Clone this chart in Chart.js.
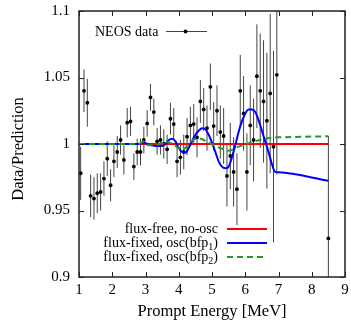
<!DOCTYPE html>
<html>
<head>
<meta charset="utf-8">
<script src="https://cdn.jsdelivr.net/npm/chart.js@4"></script>
<style>
  html, body { margin: 0; padding: 0; background: #fff; }
  #wrap { width: 351px; height: 321px; }
</style>
</head>
<body>
<div id="wrap"><canvas id="myChart" width="351" height="321"></canvas></div>
<script>
// NEOS data points (bin centres in MeV), ratio and error
const energy = [1.05, 1.15, 1.25, 1.35, 1.45, 1.55, 1.65, 1.75, 1.85, 1.95,
                2.05, 2.15, 2.25, 2.35, 2.45, 2.55, 2.65, 2.75, 2.85, 2.95,
                3.05, 3.15, 3.25, 3.35, 3.45, 3.55, 3.65, 3.75, 3.85, 3.95,
                4.05, 4.15, 4.25, 4.35, 4.45, 4.55, 4.65, 4.75, 4.85, 4.95,
                5.05, 5.15, 5.25, 5.35, 5.45, 5.55, 5.65, 5.75, 5.85, 5.95,
                6.05, 6.15, 6.25, 6.35, 6.45, 6.55, 6.65, 6.75, 6.85, 6.95, 8.5];
const ratio = [0.978, 1.040, 1.031, 0.961, 0.959, 0.963, 0.964, 0.974, 0.989, 0.969,
               0.987, 0.994, 1.003, 0.988, 1.016, 1.017, 0.983, 0.994, 0.994, 1.003,
               1.0155, 1.035, 1.024, 1.002, 1.003, 1.000, 0.996, 1.019, 1.015, 0.987,
               0.990, 0.994, 1.0055, 1.014, 1.015, 1.005, 1.032, 1.026, 1.012, 1.043,
               1.0135, 1.025, 1.009, 1.006, 0.976, 0.991, 0.979, 0.966, 1.040, 1.023,
               0.979, 1.014, 1.003, 1.051, 1.040, 1.032, 1.0175, 1.038, 0.998, 1.052, 0.929];
const ratioErr = [0.020, 0.016, 0.018, 0.016, 0.016, 0.015, 0.014, 0.013, 0.013, 0.012,
                  0.012, 0.012, 0.011, 0.011, 0.011, 0.011, 0.010, 0.010, 0.010, 0.010,
                  0.010, 0.010, 0.010, 0.010, 0.011, 0.011, 0.011, 0.012, 0.012, 0.012,
                  0.013, 0.013, 0.014, 0.014, 0.015, 0.015, 0.016, 0.016, 0.017, 0.0175,
                  0.018, 0.019, 0.020, 0.021, 0.023, 0.025, 0.026, 0.027, 0.027, 0.028,
                  0.029, 0.030, 0.031, 0.039, 0.043, 0.046, 0.051, 0.060, 0.072, 0.075, 0.077];

// flux-free, no-osc
const noOscE = [1.0, 8.5];
const noOscR = [1.0, 1.0];

// flux-fixed, osc(bfp1)
const bfp1E = [1.0, 2.0, 2.8, 2.95, 3.1, 3.3, 3.5, 3.6, 3.7, 3.8, 3.9, 4.0, 4.1, 4.2, 4.3,
               4.4, 4.5, 4.6, 4.7, 4.8, 4.9, 5.0, 5.1, 5.2, 5.3, 5.4, 5.5, 5.6, 5.7,
               5.8, 5.9, 6.0, 6.1, 6.2, 6.3, 6.4, 6.5, 6.6, 6.7, 6.8, 6.9, 7.0, 8.5];
const bfp1R = [1.000, 1.000, 1.000, 1.001, 0.9995, 0.9985, 0.9985, 1.000, 1.003, 1.004, 1.002, 0.997, 0.994, 0.9935, 0.997,
               1.002, 1.007, 1.010, 1.0118, 1.011, 1.007, 1.001, 0.994, 0.987, 0.983, 0.9817, 0.983, 0.990, 0.999,
               1.009, 1.017, 1.023, 1.026, 1.026, 1.024, 1.018, 1.010, 1.002, 0.994, 0.985, 0.979, 0.9787, 0.9724];

// flux-fixed, osc(bfp2)
const bfp2E = [1.0, 2.8, 2.95, 3.1, 3.3, 3.6, 3.8, 4.0, 4.1, 4.2, 4.35, 4.6, 4.9, 5.2, 5.5,
               5.8, 6.2, 6.5, 6.8, 7.0, 8.5];
const bfp2R = [1.000, 1.000, 1.002, 0.999, 0.999, 1.002, 1.000, 0.997, 0.996, 0.997, 1.0017, 1.0043, 1.001, 0.9975, 0.995,
               0.998, 1.0013, 1.0035, 1.0048, 1.005, 1.0058];

const xTicks = [1, 2, 3, 4, 5, 6, 7, 8, 9];
const yTicks = [0.9, 0.95, 1.0, 1.05, 1.1];

const FONT = '"Liberation Serif", "DejaVu Serif", serif';
Chart.defaults.font.family = FONT;

function pts(xs, ys) {
    return xs.map((x, i) => ({ x: x, y: ys[i] }));
}

// error bars under the points
const errorBars = {
    id: 'errorBars',
    beforeDatasetsDraw(chart) {
        const ctx = chart.ctx;
        const a = chart.chartArea;
        const xs = chart.scales.x, ys = chart.scales.y;
        ctx.save();
        ctx.beginPath();
        ctx.rect(a.left, a.top, a.right - a.left, a.bottom - a.top);
        ctx.clip();
        ctx.strokeStyle = '#444';
        ctx.lineWidth = 1;
        energy.forEach((e, i) => {
            const px = xs.getPixelForValue(e);
            ctx.beginPath();
            ctx.moveTo(px, ys.getPixelForValue(ratio[i] - ratioErr[i]));
            ctx.lineTo(px, ys.getPixelForValue(ratio[i] + ratioErr[i]));
            ctx.stroke();
        });
        ctx.restore();
    }
};

// frame, inward ticks, axis titles and the legends
const decorations = {
    id: 'decorations',
    afterDraw(chart) {
        const ctx = chart.ctx;
        const a = chart.chartArea;
        const xs = chart.scales.x, ys = chart.scales.y;
        ctx.save();
        ctx.strokeStyle = '#222';
        ctx.lineWidth = 1.5;
        ctx.strokeRect(a.left, a.top, a.right - a.left, a.bottom - a.top);

        ctx.lineWidth = 1;
        const tl = 5;
        ctx.beginPath();
        xTicks.forEach(v => {
            const px = Math.round(xs.getPixelForValue(v)) + 0.5;
            ctx.moveTo(px, a.bottom); ctx.lineTo(px, a.bottom - tl);
            ctx.moveTo(px, a.top); ctx.lineTo(px, a.top + tl);
        });
        yTicks.forEach(v => {
            const py = Math.round(ys.getPixelForValue(v)) + 0.5;
            ctx.moveTo(a.left, py); ctx.lineTo(a.left + tl, py);
            ctx.moveTo(a.right, py); ctx.lineTo(a.right - tl, py);
        });
        ctx.stroke();

        // axis titles
        ctx.fillStyle = '#000';
        ctx.font = '16.5px ' + FONT;
        ctx.textAlign = 'center';
        ctx.textBaseline = 'alphabetic';
        ctx.fillText('Prompt Energy [MeV]', (a.left + a.right) / 2, 316);
        ctx.save();
        ctx.translate(23, 149);
        ctx.rotate(-Math.PI / 2);
        ctx.fillText('Data/Prediction', 0, 0);
        ctx.restore();

        // data legend (top left)
        ctx.font = '14px ' + FONT;
        ctx.textAlign = 'left';
        ctx.textBaseline = 'middle';
        ctx.fillText('NEOS data', 95, 32);
        ctx.strokeStyle = '#444';
        ctx.beginPath();
        ctx.moveTo(166, 31.5); ctx.lineTo(207, 31.5);
        ctx.stroke();
        ctx.fillStyle = '#000';
        ctx.beginPath();
        ctx.arc(185.5, 31.5, 1.9, 0, Math.PI * 2);
        ctx.fill();

        // curves legend (bottom right)
        const rows = [
            { parts: ['flux-free, no-osc'], color: '#ff0000', dash: [], y: 229 },
            { parts: ['flux-fixed, osc(bfp', '1', ')'], color: '#0000ff', dash: [], y: 243 },
            { parts: ['flux-fixed, osc(bfp', '2', ')'], color: '#229922', dash: [6, 4], y: 257 }
        ];
        const right = 218;
        rows.forEach(r => {
            const fonts = r.parts.map((p, i) => (i === 1 ? '10px ' : '14px ') + FONT);
            let w = 0;
            r.parts.forEach((p, i) => { ctx.font = fonts[i]; w += ctx.measureText(p).width; });
            let x = right - w;
            ctx.fillStyle = '#000';
            ctx.textAlign = 'left';
            r.parts.forEach((p, i) => {
                ctx.font = fonts[i];
                ctx.fillText(p, x, r.y + (i === 1 ? 4 : 0));
                x += ctx.measureText(p).width;
            });
            ctx.strokeStyle = r.color;
            ctx.lineWidth = 2;
            ctx.setLineDash(r.dash);
            ctx.beginPath();
            ctx.moveTo(227, r.y); ctx.lineTo(267, r.y);
            ctx.stroke();
            ctx.setLineDash([]);
        });
        ctx.restore();
    }
};

const ctx = document.getElementById('myChart').getContext('2d');
new Chart(ctx, {
    type: 'scatter',
    data: {
        datasets: [
            {
                label: 'NEOS data',
                data: pts(energy, ratio),
                pointRadius: 1.9,
                pointBackgroundColor: '#000',
                pointBorderWidth: 0,
                showLine: false,
                order: 4
            },
            {
                label: 'flux-free, no-osc',
                data: pts(noOscE, noOscR),
                showLine: true,
                borderColor: '#ff0000',
                borderWidth: 2,
                pointRadius: 0,
                order: 3
            },
            {
                label: 'flux-fixed, osc(bfp1)',
                data: pts(bfp1E, bfp1R),
                showLine: true,
                borderColor: '#0000ff',
                borderWidth: 2,
                pointRadius: 0,
                cubicInterpolationMode: 'monotone',
                order: 2
            },
            {
                label: 'flux-fixed, osc(bfp2)',
                data: pts(bfp2E, bfp2R),
                showLine: true,
                borderColor: '#229922',
                borderWidth: 2,
                borderDash: [6, 4],
                pointRadius: 0,
                cubicInterpolationMode: 'monotone',
                order: 1
            }
        ]
    },
    options: {
        responsive: false,
        animation: false,
        layout: { padding: { left: 0, right: 6, top: 11, bottom: 0 } },
        scales: {
            x: {
                type: 'linear',
                min: 1,
                max: 9,
                afterFit: s => { s.height = 44; s.paddingLeft = 0; s.paddingRight = 0; },
                afterBuildTicks: s => { s.ticks = xTicks.map(v => ({ value: v })); },
                ticks: { color: '#000', font: { size: 15 }, padding: 4, maxRotation: 0 },
                grid: { display: false, drawTicks: false },
                border: { display: false }
            },
            y: {
                min: 0.9,
                max: 1.1,
                afterFit: s => { s.width = 79; s.paddingTop = 0; s.paddingBottom = 0; },
                afterBuildTicks: s => { s.ticks = yTicks.map(v => ({ value: v })); },
                ticks: {
                    color: '#000',
                    font: { size: 15 },
                    padding: 9,
                    callback: v => String(Math.round(v * 100) / 100)
                },
                grid: { display: false, drawTicks: false },
                border: { display: false }
            }
        },
        plugins: {
            legend: { display: false },
            tooltip: { enabled: false }
        }
    },
    plugins: [errorBars, decorations]
});
</script>
</body>
</html>
